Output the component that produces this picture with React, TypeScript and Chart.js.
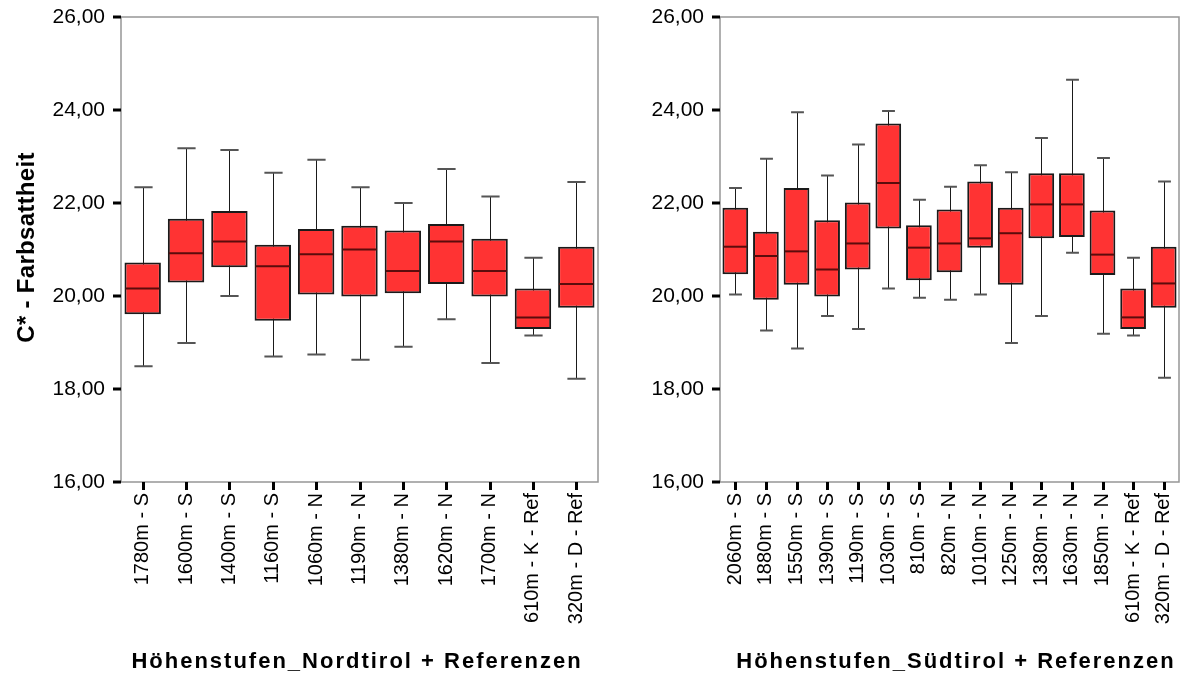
import React, { useEffect, useRef } from "react";
import { Chart, registerables } from "chart.js";

Chart.register(...registerables);

const northCategories = [
  "1780m - S", "1600m - S", "1400m - S", "1160m - S", "1060m - N", "1190m - N",
  "1380m - N", "1620m - N", "1700m - N", "610m - K - Ref", "320m - D - Ref",
];
const northMin = [18.49, 18.99, 20.0, 18.7, 18.74, 18.63, 18.91, 19.5, 18.56, 19.15, 18.22];
const northQ1 = [19.61, 20.29, 20.62, 19.47, 20.03, 19.99, 20.06, 20.26, 19.99, 19.29, 19.75];
const northMedian = [20.16, 20.92, 21.17, 20.64, 20.9, 21.0, 20.54, 21.17, 20.54, 19.54, 20.26];
const northQ3 = [20.72, 21.66, 21.83, 21.1, 21.44, 21.51, 21.41, 21.55, 21.23, 20.16, 21.06];
const northMax = [22.34, 23.18, 23.14, 22.65, 22.93, 22.34, 22.0, 22.73, 22.14, 20.82, 22.45];

const southCategories = [
  "2060m - S", "1880m - S", "1550m - S", "1390m - S", "1190m - S", "1030m - S", "810m - S",
  "820m - N", "1010m - N", "1250m - N", "1380m - N", "1630m - N", "1850m - N",
  "610m - K - Ref", "320m - D - Ref",
];
const southMin = [20.03, 19.26, 18.87, 19.57, 19.29, 20.16, 19.96, 19.92, 20.03, 18.99, 19.57, 20.93, 19.19, 19.15, 18.24];
const southQ1 = [20.47, 19.92, 20.24, 19.99, 20.57, 21.45, 20.34, 20.51, 21.04, 20.24, 21.24, 21.27, 20.45, 19.29, 19.75];
const southMedian = [21.06, 20.86, 20.96, 20.57, 21.13, 22.43, 21.04, 21.13, 21.24, 21.35, 21.97, 21.97, 20.89, 19.54, 20.27];
const southQ3 = [21.9, 21.38, 22.32, 21.63, 22.01, 23.71, 21.52, 21.86, 22.46, 21.9, 22.64, 22.64, 21.84, 20.16, 21.06];
const southMax = [22.32, 22.95, 23.95, 22.59, 23.26, 23.98, 22.07, 22.35, 22.81, 22.66, 23.4, 24.65, 22.97, 20.82, 22.46];

const yTickValues = [16, 18, 20, 22, 24, 26];
const yAxisTitle = "C* - Farbsattheit";
const northTitle = "Höhenstufen_Nordtirol + Referenzen";
const southTitle = "Höhenstufen_Südtirol + Referenzen";

const FONT = "'Liberation Sans', Arial, Helvetica, sans-serif";

type PanelProps = {
  categories: string[];
  mins: number[];
  q1: number[];
  medians: number[];
  q3: number[];
  maxs: number[];
  xTitle: string;
  yTitle?: string;
  width: number;
  height: number;
  yAxisWidth: number;
  padRight: number;
  xTitleCenter: number;
};

function Panel(props: PanelProps) {
  const ref = useRef<HTMLCanvasElement | null>(null);
  useEffect(() => {
    const canvas = ref.current;
    if (!canvas) return;
    const { categories, mins, q1, medians, q3, maxs } = props;

    const boxPlugin = {
      id: "boxextras",
      beforeDatasetsDraw(chart: any) {
        const ctx = chart.ctx;
        const y = chart.scales.y;
        const meta = chart.getDatasetMeta(0);
        ctx.save();
        meta.data.forEach((el: any, i: number) => {
          const x = Math.round(el.x) + 0.5;
          const w = el.width;
          const yMin = y.getPixelForValue(mins[i]);
          const yMax = y.getPixelForValue(maxs[i]);
          ctx.strokeStyle = "#1a1a1a";
          ctx.lineWidth = 1;
          ctx.beginPath();
          ctx.moveTo(x, yMax);
          ctx.lineTo(x, yMin);
          ctx.stroke();
          ctx.strokeStyle = "#555";
          ctx.lineWidth = 2;
          ctx.beginPath();
          ctx.moveTo(x - w * 0.25, yMax);
          ctx.lineTo(x + w * 0.25, yMax);
          ctx.moveTo(x - w * 0.25, yMin);
          ctx.lineTo(x + w * 0.25, yMin);
          ctx.stroke();
        });
        ctx.restore();
      },
      afterDatasetsDraw(chart: any) {
        const ctx = chart.ctx;
        const y = chart.scales.y;
        const meta = chart.getDatasetMeta(0);
        ctx.save();
        meta.data.forEach((el: any, i: number) => {
          const w = el.width;
          const ym = y.getPixelForValue(medians[i]);
          ctx.strokeStyle = "#5a0c0c";
          ctx.lineWidth = 2;
          ctx.beginPath();
          ctx.moveTo(el.x - w / 2 + 1, ym);
          ctx.lineTo(el.x + w / 2 - 1, ym);
          ctx.stroke();
        });
        ctx.restore();
      },
      afterDraw(chart: any) {
        const ctx = chart.ctx;
        const a = chart.chartArea;
        ctx.save();
        ctx.strokeStyle = "#969696";
        ctx.lineWidth = 1.5;
        ctx.strokeRect(a.left, a.top, a.right - a.left, a.bottom - a.top);
        ctx.fillStyle = "#000";
        chart.scales.y.ticks.forEach((t: any) => {
          const py = chart.scales.y.getPixelForValue(t.value);
          ctx.fillRect(a.left - 8, py - 1.5, 8, 3);
        });
        chart.getDatasetMeta(0).data.forEach((el: any) => {
          ctx.fillRect(Math.round(el.x) - 1, a.bottom, 3, 8);
        });
        ctx.fillStyle = "#000";
        ctx.letterSpacing = "2px";
        ctx.font = `bold 22px ${FONT}`;
        ctx.textAlign = "center";
        ctx.textBaseline = "alphabetic";
        ctx.fillText(props.xTitle, props.xTitleCenter, 668);
        if (props.yTitle) {
          ctx.letterSpacing = "0.3px";
          ctx.font = `bold 24px ${FONT}`;
          ctx.translate(34, (a.top + a.bottom) / 2 - 2);
          ctx.rotate(-Math.PI / 2);
          ctx.fillText(props.yTitle, 0, 0);
        }
        ctx.restore();
      },
    };

    const chart = new Chart(canvas, {
      type: "bar",
      data: {
        labels: categories,
        datasets: [
          {
            data: categories.map((_, i) => [q1[i], q3[i]]) as any,
            backgroundColor: "#ff3333",
            borderColor: "#1a1a1a",
            borderWidth: 2,
            borderSkipped: false,
            barPercentage: 0.84,
            categoryPercentage: 1,
          },
        ],
      },
      options: {
        animation: false,
        responsive: false,
        events: [],
        layout: { padding: { top: 17, right: props.padRight, bottom: 0, left: 0 } },
        plugins: { legend: { display: false }, tooltip: { enabled: false } },
        scales: {
          x: {
            offset: true,
            grid: { display: false, offset: false },
            border: { display: false },
            ticks: {
              color: "#000",
              font: { family: FONT, size: 20 },
              minRotation: 90,
              maxRotation: 90,
              autoSkip: false,
              padding: 3,
            },
            afterFit(scale: any) {
              scale.height = props.height - 482;
              scale.paddingLeft = 0;
              scale.paddingRight = 0;
            },
          },
          y: {
            min: 16,
            max: 26,
            afterBuildTicks(scale: any) {
              scale.ticks = yTickValues.map((v) => ({ value: v }));
            },
            grid: { display: false },
            border: { display: false },
            ticks: {
              color: "#000",
              font: { family: FONT, size: 21 },
              padding: 8,
              callback: (v: any) => Number(v).toFixed(2).replace(".", ","),
            },
            afterFit(scale: any) {
              scale.width = props.yAxisWidth;
              scale.paddingTop = 0;
              scale.paddingBottom = 0;
            },
          },
        },
      },
      plugins: [boxPlugin],
    });
    return () => chart.destroy();
  }, []);
  return <canvas ref={ref} width={props.width} height={props.height} style={{ display: "block" }} />;
}

export default function App() {
  return (
    <div style={{ position: "fixed", left: 0, top: 0, width: 1189, height: 674, background: "#fff" }}>
      <div style={{ position: "absolute", left: 0, top: 0 }}>
        <Panel
          categories={northCategories}
          mins={northMin}
          q1={northQ1}
          medians={northMedian}
          q3={northQ3}
          maxs={northMax}
          xTitle={northTitle}
          yTitle={yAxisTitle}
          width={600}
          height={674}
          yAxisWidth={121}
          padRight={2}
          xTitleCenter={357}
        />
      </div>
      <div style={{ position: "absolute", left: 600, top: 0 }}>
        <Panel
          categories={southCategories}
          mins={southMin}
          q1={southQ1}
          medians={southMedian}
          q3={southQ3}
          maxs={southMax}
          xTitle={southTitle}
          width={589}
          height={674}
          yAxisWidth={120}
          padRight={10}
          xTitleCenter={356}
        />
      </div>
    </div>
  );
}
